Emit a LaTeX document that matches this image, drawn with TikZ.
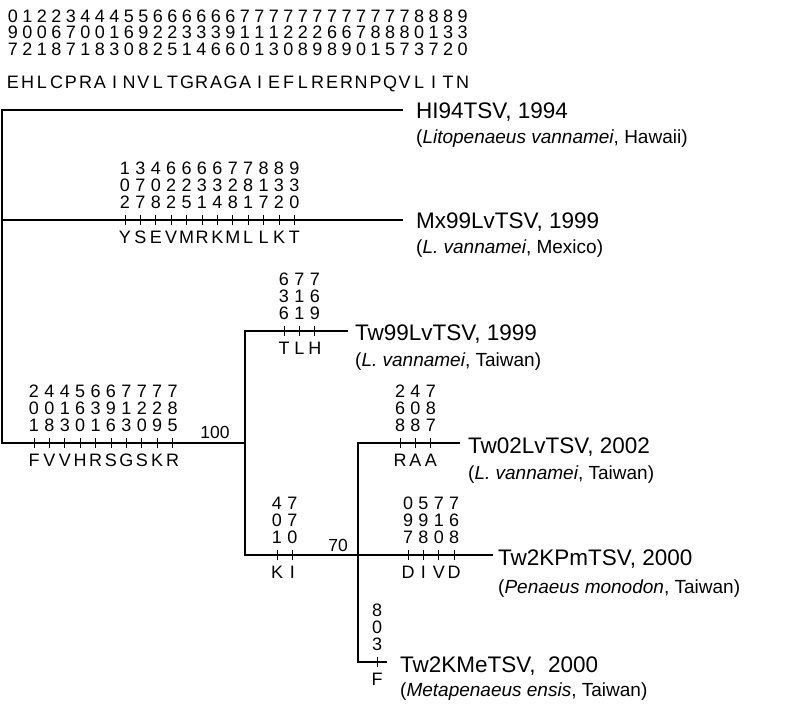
\documentclass[tikz,border=0pt]{standalone}
\usepackage{fontspec}
\setmainfont{Liberation Sans}
\usetikzlibrary{positioning}

% one group of substitution sites: name, first x, branch y, list of digit/digit/digit/residue
\newcommand{\mutsites}[4]{%
  \foreach \da/\db/\dc/\res [count=\k] in {#4}{
    \pgfmathsetmacro{\tx}{#2+15.4*(\k-1)}
    \draw[tickmark] (\tx,#3-5) -- (\tx,#3+5);
    \node[digit] (#1a\k) at (\tx,#3-52) {\da};
    \node[digit] (#1b\k) at (\tx,#3-35) {\db};
    \node[digit] (#1c\k) at (\tx,#3-18) {\dc};
    \node[residue] (#1r\k) at (\tx,#3+17) {\res};
  }%
}

\begin{document}
\begin{tikzpicture}[
  x=1pt, y=-1pt,
  every node/.style={inner sep=0pt},
  branch/.style={line width=1.7pt, line join=miter},
  tickmark/.style={line width=0.8pt},
  digit/.style={font=\fontsize{18}{20}\selectfont, text height=12.9pt, text depth=0pt},
  residue/.style={font=\fontsize{18}{20}\selectfont, text height=12.9pt, text depth=0pt},
  taxon/.style={anchor=west, font=\fontsize{22.5}{26}\selectfont},
  host/.style={anchor=west, font=\fontsize{19}{22}\selectfont},
  support/.style={font=\fontsize{17.5}{20}\selectfont, text height=12.5pt, text depth=0pt}
]
\useasboundingbox (0,0) rectangle (786,706);

% Reference sequence (HI94TSV)
\foreach \da/\db/\dc/\res [count=\k] in {0/9/7/E,1/0/2/H,2/0/1/L,2/6/8/C,3/7/7/P,
    4/0/1/R,4/0/8/A,4/1/3/I,5/6/0/N,5/9/8/V,6/2/2/L,6/2/5/T,6/3/1/G,6/3/4/R,
    6/3/6/A,6/9/6/G,7/1/0/A,7/1/1/I,7/1/3/E,7/2/0/F,7/2/8/L,7/2/9/R,7/6/8/E,
    7/6/9/R,7/7/0/N,7/8/1/P,7/8/5/Q,7/8/7/V,8/0/3/L,8/1/7/I,8/3/2/T,9/3/0/N}{
  \pgfmathsetmacro{\hx}{13+14.5*(\k-1)}
  \node[digit] (ha\k) at (\hx,16) {\da};
  \node[digit] (hb\k) at (\hx,32.5) {\db};
  \node[digit] (hc\k) at (\hx,49) {\dc};
  \node[residue] (hr\k) at (\hx,82) {\res};
}

% Tree
\coordinate (rtop) at (2,110);
\coordinate (rbot) at (2,443);
\coordinate (hi) at (403,110);
\coordinate (mxl) at (2,220);
\coordinate (mx) at (403,220);
\coordinate (n100) at (245,443);
\coordinate (n100top) at (245,331);
\coordinate (n100bot) at (245,555);
\coordinate (tw99) at (348,331);
\coordinate (n70) at (358,555);
\coordinate (pm) at (493,555);
\coordinate (n70top) at (358,443);
\coordinate (n70bot) at (358,662);
\coordinate (tw02) at (460,443);
\coordinate (me) at (387,662);

\draw[branch] (hi) -- (rtop) -- (rbot) -- (n100);
\draw[branch] (mxl) -- (mx);
\draw[branch] (tw99) -- (n100top) -- (n100bot) -- (n70) -- (pm);
\draw[branch] (tw02) -- (n70top) -- (n70bot) -- (me);

\node[support] (bs100) at (215,432) {100};
\node[support] (bs70) at (338,545) {70};

% Substitutions on branches
\mutsites{mx}{125}{220}{1/0/2/Y,3/7/7/S,4/0/8/E,6/2/2/V,6/2/5/M,6/3/1/R,
  6/3/4/K,7/2/8/M,7/8/1/L,8/1/7/L,8/3/2/K,9/3/0/T}
\mutsites{tw}{34}{443}{2/0/1/F,4/0/8/V,4/1/3/V,5/6/0/H,6/3/1/R,6/9/6/S,
  7/1/3/G,7/2/0/S,7/2/9/K,7/8/5/R}
\mutsites{tn}{284}{331}{6/3/6/T,7/1/1/L,7/6/9/H}
\mutsites{tl}{400}{443}{2/6/8/R,4/0/8/A,7/8/7/A}
\mutsites{ki}{277}{555}{4/0/1/K,7/7/0/I}
\mutsites{pm}{408}{555}{0/9/7/D,5/9/8/I,7/1/0/V,7/6/8/D}
\mutsites{me}{377}{662}{8/0/3/F}

% Isolates
\node[taxon] (hiname) at (416,112) {HI94TSV, 1994};
\node[host] (hihost) at (416,139) {(\textit{Litopenaeus vannamei}, Hawaii)};
\node[taxon] (mxname) at (416,222) {Mx99LvTSV, 1999};
\node[host] (mxhost) at (416,249) {(\textit{L. vannamei}, Mexico)};
\node[taxon] (tnname) at (355,334) {Tw99LvTSV, 1999};
\node[host] (tnhost) at (355,362) {(\textit{L. vannamei}, Taiwan)};
\node[taxon] (tlname) at (468,447) {Tw02LvTSV, 2002};
\node[host] (tlhost) at (468,475) {(\textit{L. vannamei}, Taiwan)};
\node[taxon] (pmname) at (498,559) {Tw2KPmTSV, 2000};
\node[host] (pmhost) at (498,589) {(\textit{Penaeus monodon}, Taiwan)};
\node[taxon] (mename) at (400,666) {Tw2KMeTSV, \ 2000};
\node[host] (mehost) at (400,692) {(\textit{Metapenaeus ensis}, Taiwan)};

\end{tikzpicture}
\end{document}
